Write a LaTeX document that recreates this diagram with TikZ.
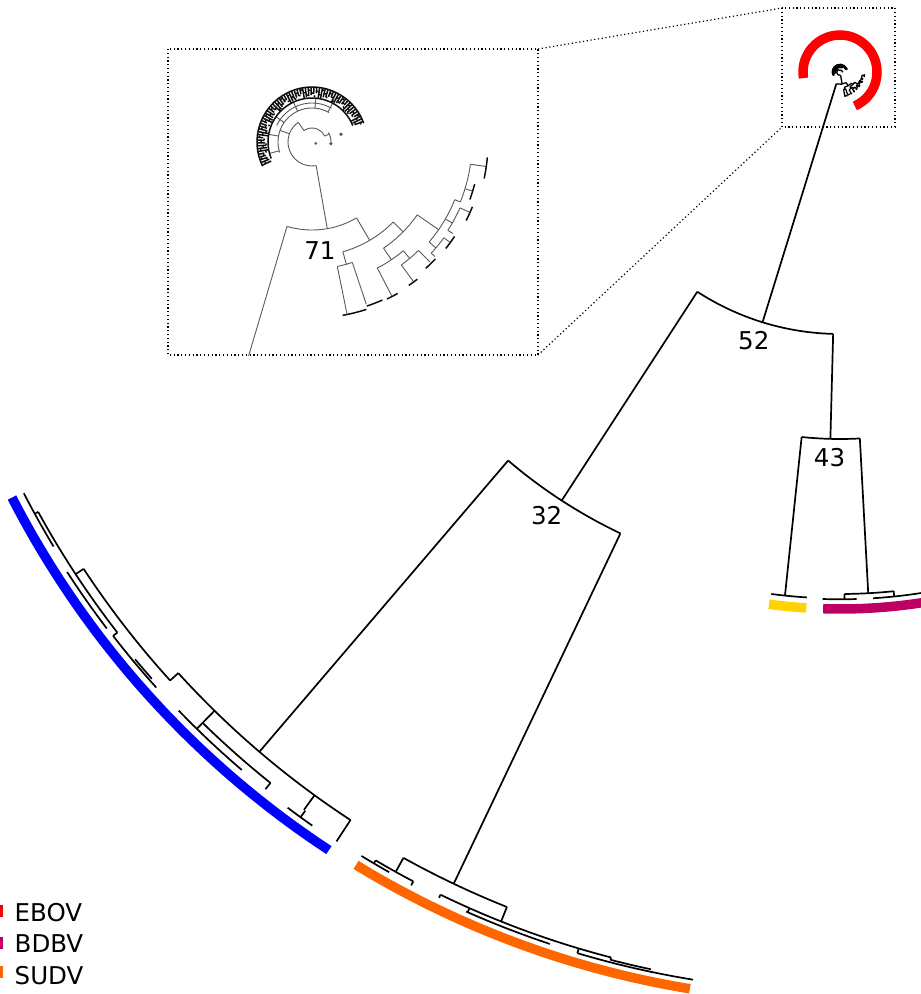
\documentclass[tikz,border=0pt]{standalone}
\usepackage{fontspec}
\setmainfont{DejaVu Sans}
\definecolor{ebov}{RGB}{255,0,0}
\definecolor{bdbv}{RGB}{190,0,100}
\definecolor{sudv}{RGB}{255,102,0}
\definecolor{restv}{RGB}{0,0,255}
\definecolor{tafv}{RGB}{255,210,0}

% polar helpers (angle clockwise from +x, since the y axis points down)
% \brArc{radius}{from angle}{to angle}, \brRad{angle}{inner radius}{outer radius}
\newcommand\brArc[3]{\draw (#2:#1) arc[start angle=#2,end angle=#3,radius=#1];}
\newcommand\brRad[3]{\draw (#1:#2) -- (#1:#3);}

% the EBOV subtree around its own centre, radius unit of the enlarged view
\newcommand\ebovtree{%
  % inner hook near the centre
  \brArc{24}{80}{235}
  \brRad{235}{14}{24}
  \brArc{14}{235}{335}
  \brRad{335}{14}{19}
  \brArc{19}{330}{365}
  \fill (5:19) circle (1.8);
  \fill (345:30) circle (1.8);
  \fill (20:4) circle (1.5);
  % upper clade with its dense ring of tips
  \brRad{200}{24}{34}
  \brArc{34}{162}{300}
  \foreach \t in {165,190,215,245,275,298} {\brRad{\t}{34}{43.5}}
  \brArc{39}{205}{300}
  \begin{scope}[tipline]
    \brArc{44}{158}{338}
    \brArc{55}{154}{340}
    \foreach \t [count=\i] in {155,158,...,338} {
      \pgfmathsetmacro\ra{44+mod(\i*7,6)}
      \pgfmathsetmacro\rb{46+mod(\i*5,8)}
      \pgfmathsetmacro\te{\t+2.2}
      \brRad{\t}{\ra}{55}
      \brArc{\rb}{\t}{\te}
    }
  \end{scope}
  % node 71 and the lower clade
  \brRad{80}{24}{88}
  \brArc{88}{59.6}{106.5}
  \brRad{59.6}{88}{114}
  \brArc{114}{44.6}{74.3}
  \brRad{74.3}{114}{127}
  \brArc{127}{71.5}{78.5}
  \brRad{78.5}{127}{175}
  \brRad{71.5}{127}{171}
  \brRad{44.6}{114}{128}
  \brArc{128}{34.7}{56}
  \brRad{56}{128}{142}
  \brArc{142}{50}{62.6}
  \brRad{62.6}{142}{173}
  \brRad{50}{142}{152}
  \brArc{152}{45.5}{54}
  \brRad{54}{152}{172}
  \brRad{45.5}{152}{168}
  \brRad{34.7}{128}{154}
  \brArc{154}{22}{40.5}
  \brRad{40.5}{154}{163}
  \brArc{163}{36}{43}
  \brRad{43}{163}{168}
  \brRad{36}{163}{170}
  \brRad{30}{154}{162}
  \brArc{162}{24}{33}
  \brRad{24}{162}{172}
  \brRad{33}{162}{168}
  \brRad{22}{154}{160}
  \brArc{160}{8}{22}
  \brRad{8}{160}{176}
  \brRad{17}{160}{168}
  % tip clusters of the lower clade
  \begin{scope}[tipline]
    \brArc{176}{72}{80}
    \brArc{173}{66}{71.5}
    \brArc{174}{60.5}{64.5}
    \brArc{173}{52.5}{56}
    \brArc{170}{43.5}{48}
    \brArc{171}{33.5}{38.5}
    \brArc{173}{22}{27}
    \brArc{168}{14.5}{20}
    \brArc{176}{5}{12}
  \end{scope}
}

\begin{document}
\begin{tikzpicture}[x=1pt,y=-1pt,line cap=butt,
  branch/.style={line width=1.7pt,black},
  minitree/.style={line width=1.3pt,black,tipline/.style={line width=1.4pt}},
  zoomtree/.style={line width=0.9pt,black!65,tipline/.style={line width=1.5pt,black!95}},
  cladebar/.style={line width=9.5pt},
  lbl/.style={font=\fontsize{24.5}{28}\selectfont,inner sep=0pt},
  boxline/.style={line width=1.2pt,dash pattern=on 1.2pt off 2.6pt}]
\useasboundingbox (0,0) rectangle (921,994);
\clip (0,0) rectangle (921,994);

% corners of the two framed regions
\coordinate (smallNW) at (782,8);
\coordinate (smallSE) at (895,127);
\coordinate (smallSW) at (782,127);
\coordinate (bigNW) at (168,49);
\coordinate (bigSE) at (538,355);
\coordinate (bigNE) at (538,49);

% ---------------- main circular tree ----------------
\begin{scope}[shift={(840,72)}]
  % clade bars
  \begin{scope}[cladebar]
    \draw[ebov]  (170.5:37) arc[start angle=170.5,end angle=426.4,radius=37];
    \draw[restv] (123.3:931) arc[start angle=123.3,end angle=152.8,radius=931];
    \draw[sudv]  (99.3:929) arc[start angle=99.3,end angle=121.4,radius=929];
    \draw[tafv]  (93.6:537) arc[start angle=93.6,end angle=97.6,radius=537];
    \draw[bdbv]  (75:537) arc[start angle=75,end angle=91.8,radius=537];
  \end{scope}

  \begin{scope}[branch]
    % root branch to node 52
    \brRad{107.2}{12.3}{262}
    \brArc{262}{91.5}{123.0}
    \brRad{123.0}{262}{511}
    \brRad{91.5}{262}{367}
    % node 43
    \brArc{367}{86.9}{96.0}
    \brRad{96.0}{367}{526.5}
    \brArc{526.5}{93.6}{97.5}
    \brRad{86.9}{367}{522}
    \brArc{522}{84.1}{89.5}
    \brRad{89.5}{522}{527.3}
    \brRad{84.1}{522}{527.3}
    \brArc{527.3}{88.2}{91.9}
    \brArc{527.3}{75}{86.4}
    % node 32
    \brArc{511}{115.45}{130.5}
    \brRad{130.5}{511}{894}
    \brRad{115.45}{511}{899}
  \end{scope}

  % blue clade
  \begin{scope}[branch]
    \brArc{894}{123.2}{137.75}
    \brRad{123.2}{894}{919.6}
    \brRad{137.75}{894}{905}
    \brArc{905}{137.75}{146.7}
    \brRad{146.7}{905}{914.6}
    \brArc{914.6}{142.2}{151.25}
    \brRad{151.25}{914.6}{918.5}
    \brArc{918.5}{148.9}{152.7}
    \brRad{142.2}{914.6}{920}
    \brArc{920}{138.0}{142.2}
    \brArc{920.5}{142.8}{147.1}
    \brArc{917.5}{138.6}{140.2}
    \brRad{134.4}{894}{911}
    \brArc{911}{128.7}{134.4}
    \brRad{128.7}{911}{919}
    \brRad{134.4}{911}{919.3}
    \brArc{919.3}{130.6}{136.0}
    \brRad{126.0}{894}{912}
    \brRad{125.9}{912}{920}
    \brArc{920}{125.0}{126.9}
  \end{scope}

  % orange clade
  \begin{scope}[branch]
    \brArc{899}{111.75}{119.05}
    \brRad{119.05}{899}{915}
    \brArc{915}{117.8}{120.5}
    \brRad{120.5}{915}{918.5}
    \brArc{918.5}{119.4}{121.4}
    \brRad{117.8}{915}{919.5}
    \brRad{111.75}{899}{914.6}
    \brArc{914.6}{104.5}{115.9}
    \brRad{115.9}{914.6}{918}
    \brRad{113.9}{914.6}{919}
    \brArc{919}{108.4}{114.0}
    \brRad{106.6}{914.6}{919.5}
    \brArc{919.5}{99.2}{106.6}
    \brRad{104.5}{914.6}{917}
    \brArc{917}{101.9}{104.5}
  \end{scope}

  % EBOV subtree at the centre
  \begin{scope}[scale=0.14,minitree]
    \ebovtree
  \end{scope}
\end{scope}

% ---------------- enlarged view of the centre ----------------
\begin{scope}
  \clip (bigNW) rectangle (bigSE);
  \begin{scope}[shift={(312,142)},zoomtree]
    \ebovtree
    \brRad{106.5}{88}{240}
  \end{scope}
\end{scope}

% frames and guide lines
\draw[boxline] (smallNW) rectangle (smallSE);
\draw[boxline] (bigNW) rectangle (bigSE);
\draw[boxline] (bigNE) -- (smallNW);
\draw[boxline] (bigSE) -- (smallSW);

% support values
\node[lbl] (l52) at (753.8,340.3) {52};
\node[lbl] (l43) at (829.5,457.2) {43};
\node[lbl] (l32) at (546.7,515.8) {32};
\node[lbl] (l71) at (320,250.8) {71};

% legend
\fill[ebov] (-10,905) rectangle (2.7,917);
\fill[bdbv] (-10,937) rectangle (2.7,949);
\fill[sudv] (-10,966) rectangle (2.7,978);
\node[lbl,anchor=base west] (lgEBOV) at (14.5,921.5) {EBOV};
\node[lbl,anchor=base west] (lgBDBV) at (14.5,952) {BDBV};
\node[lbl,anchor=base west] (lgSUDV) at (14.5,984) {SUDV};
\end{tikzpicture}
\end{document}
